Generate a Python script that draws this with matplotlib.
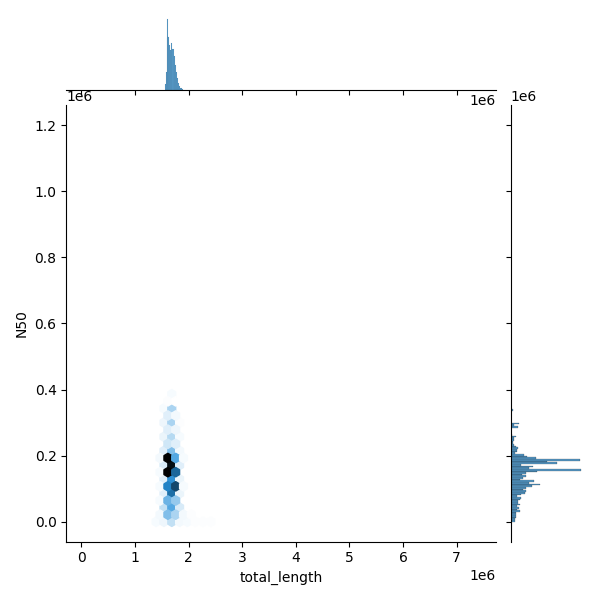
import matplotlib
matplotlib.use("Agg")
import matplotlib.pyplot as plt
import numpy as np
import pandas as pd
import seaborn as sns

# hexbin cells: centres in Mb, number of genomes
hex_total_length = [
    1.396, 1.542, 1.688, 1.833, 1.979, 2.125, 2.270, 2.416,
    1.469, 1.615, 1.760, 1.906, 2.052,
    1.542, 1.688, 1.833,
    1.469, 1.615, 1.760,
    1.542, 1.688, 1.833,
    1.469, 1.615, 1.760, 1.906,
    1.542, 1.688, 1.833,
    1.469, 1.615, 1.760,
    1.542, 1.688, 1.833,
    1.469, 1.615, 1.760, 1.906,
    1.542, 1.688, 1.833,
    1.615, 1.760,
    1.542, 1.688, 1.833,
    1.615, 1.760,
    1.542, 1.688, 1.833,
    1.615, 1.760,
    1.542, 1.688,
    1.615, 1.760,
    1.688,
]
hex_n50 = [
    0.000, 0.000, 0.000, 0.000, 0.000, 0.000, 0.000, 0.000,
    0.021, 0.021, 0.021, 0.021, 0.021,
    0.043, 0.043, 0.043,
    0.064, 0.064, 0.064,
    0.086, 0.086, 0.086,
    0.107, 0.107, 0.107, 0.107,
    0.129, 0.129, 0.129,
    0.150, 0.150, 0.150,
    0.171, 0.171, 0.171,
    0.193, 0.193, 0.193, 0.193,
    0.214, 0.214, 0.214,
    0.236, 0.236,
    0.257, 0.257, 0.257,
    0.279, 0.279,
    0.300, 0.300, 0.300,
    0.321, 0.321,
    0.343, 0.343,
    0.364, 0.364,
    0.386,
]
hex_count = [
    3, 5, 15, 4, 3, 2, 2, 2,
    4, 30, 20, 4, 2,
    15, 40, 10,
    3, 35, 25,
    8, 62, 6,
    3, 55, 75, 3,
    8, 50, 6,
    3, 100, 65,
    10, 95, 8,
    4, 100, 40, 3,
    8, 30, 4,
    12, 8,
    6, 18, 3,
    8, 5,
    5, 20, 2,
    8, 4,
    3, 20,
    2, 1,
    3,
]

# a few extreme genomes that stretch the axes
outlier_total_length = [0.085, 7.37, 1.75]
outlier_n50 = [0.01, 0.02, 1.2]
outlier_count = [1, 1, 1]

# marginal histogram of total_length (Mb), one very narrow peak bin
length_bins = [1.56, 1.58, 1.60, 1.607, 1.613, 1.62, 1.64, 1.66, 1.68, 1.70,
               1.72, 1.74, 1.76, 1.78, 1.80, 1.82, 1.84, 1.86, 1.88, 1.90]
length_counts = [7, 20, 58, 80, 60, 59, 50, 45, 53, 46,
                 38, 28, 20, 14, 8, 5, 3, 2, 1]

# marginal histogram of N50 (Mb)
n50_bins = np.arange(0.0, 0.34 + 1e-9, 0.005)
n50_counts = [
    4, 4, 5, 5, 5, 5, 9, 6, 8, 6,
    9, 7, 7, 9, 10, 6, 10, 14, 15, 12,
    15, 21, 28, 18, 23, 9, 12, 15, 11, 15,
    26, 69, 18, 22, 10, 45, 35, 68, 25, 16,
    13, 4, 6, 6, 7, 5, 3, 2, 2, 3,
    3, 5, 1.5, 0, 0, 0, 0, 7, 3, 8,
    0, 0, 0, 0, 0, 0, 0, 2,
]

x = np.array(hex_total_length + outlier_total_length) * 1e6
y = np.array(hex_n50 + outlier_n50) * 1e6
c = np.array(hex_count + outlier_count)

color = matplotlib.colors.to_rgb("C0")
colors = [sns.utils.set_hls_values(color, l=l) for l in np.linspace(1, 0, 12)]
cmap = sns.blend_palette(colors, as_cmap=True)

g = sns.JointGrid(height=6)
g.ax_joint.hexbin(x, y, C=c, reduce_C_function=np.sum, gridsize=50, cmap=cmap)

length_edges = np.array(length_bins)
length_df = pd.DataFrame({
    "total_length": (length_edges[:-1] + length_edges[1:]) / 2 * 1e6,
    "count": length_counts,
})
n50_df = pd.DataFrame({
    "N50": (n50_bins[:-1] + n50_bins[1:]) / 2 * 1e6,
    "count": n50_counts,
})
sns.histplot(data=length_df, x="total_length", weights="count",
             bins=list(length_edges * 1e6), color="C0", ax=g.ax_marg_x)
sns.histplot(data=n50_df, y="N50", weights="count",
             bins=list(n50_bins * 1e6), color="C0", ax=g.ax_marg_y)
g.ax_marg_x.yaxis.get_label().set_visible(False)
g.ax_marg_y.xaxis.get_label().set_visible(False)

g.set_axis_labels("total_length", "N50")
g.figure.tight_layout()
g.figure.subplots_adjust(hspace=0.2, wspace=0.2)
plt.savefig("out.png", dpi=100)
